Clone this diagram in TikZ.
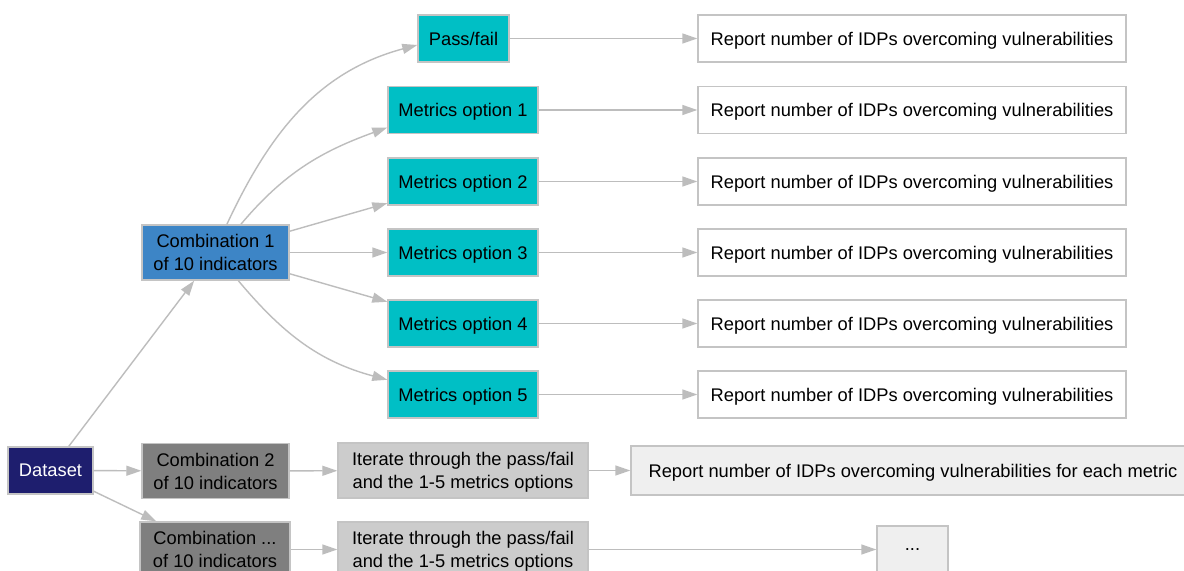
\documentclass[tikz,border=0pt]{standalone}
\usepackage{fontspec}
\setmainfont{Liberation Sans}
\usetikzlibrary{arrows.meta}
\definecolor{metricfill}{HTML}{00BFC5}
\definecolor{combofill}{HTML}{3D85C6}
\definecolor{datafill}{HTML}{1E1E6E}
\definecolor{greyfill}{HTML}{7F7F7F}
\definecolor{iterfill}{HTML}{CCCCCC}
\definecolor{reportfill}{HTML}{EFEFEF}
\definecolor{edgegrey}{HTML}{C4C4C4}
\definecolor{arrowgrey}{HTML}{BDBDBD}
\begin{document}
\begin{tikzpicture}[x=0.5pt,y=0.5pt,
    box/.style={draw=edgegrey, line width=0.7pt, inner sep=0pt, align=center,
      text depth=0pt, font=\fontsize{9.15}{11.5}\selectfont},
    metric/.style={box, fill=metricfill, minimum width=75pt, minimum height=23.5pt},
    report/.style={box, fill=white, minimum width=214pt, minimum height=23.5pt},
    combo/.style={box, minimum width=73.5pt, minimum height=27.5pt},
    iterbox/.style={box, fill=iterfill, minimum width=125pt, minimum height=27.5pt},
    arr/.style={draw=arrowgrey, line width=0.7pt, -{Triangle[length=7.5pt,width=5pt]}}]
  \clip (0,0) rectangle (1184,-571);
  \fill[white] (0,0) rectangle (1184,-571);
  % combination 1 and its options
  \node[combo, fill=combofill] (combo1) at (215.5,-252.5) {Combination 1\\of 10 indicators};
  \node[metric, minimum width=45.5pt] (passfail) at (463.5,-38.5) {Pass/fail};
  \node[metric] (opt1) at (463,-110) {Metrics option 1};
  \node[metric] (opt2) at (463,-181.5) {Metrics option 2};
  \node[metric] (opt3) at (463,-252.5) {Metrics option 3};
  \node[metric] (opt4) at (463,-323.5) {Metrics option 4};
  \node[metric] (opt5) at (463,-394.5) {Metrics option 5};
  \node[report] (rep0) at (912,-38.5) {Report number of IDPs overcoming vulnerabilities};
  \node[report] (rep1) at (912,-110) {Report number of IDPs overcoming vulnerabilities};
  \node[report] (rep2) at (912,-181.5) {Report number of IDPs overcoming vulnerabilities};
  \node[report] (rep3) at (912,-252.5) {Report number of IDPs overcoming vulnerabilities};
  \node[report] (rep4) at (912,-323.5) {Report number of IDPs overcoming vulnerabilities};
  \node[report] (rep5) at (912,-394.5) {Report number of IDPs overcoming vulnerabilities};
  % the other combinations
  \node[box, fill=datafill, text=white, minimum width=42.5pt, minimum height=23.5pt] (dataset) at (50.5,-470.5) {Dataset};
  \node[combo, fill=greyfill] (combo2) at (215.5,-471) {Combination 2\\of 10 indicators};
  \node[combo, fill=greyfill, minimum width=75pt] (combo3) at (215,-549.5) {Combination ...\\of 10 indicators};
  \node[iterbox] (iter1) at (463,-470.5) {Iterate through the pass/fail\\and the 1-5 metrics options};
  \node[iterbox] (iter2) at (463,-549.5) {Iterate through the pass/fail\\and the 1-5 metrics options};
  \node[box, fill=reportfill, minimum width=282pt, minimum height=24.5pt] (eachmetric) at (913,-470.5) {Report number of IDPs overcoming vulnerabilities for each metric};
  \node[box, fill=reportfill, minimum width=35.5pt, minimum height=23.5pt] (dots) at (912.5,-549.5) {...};
  \begin{scope}[arr]
    \draw (dataset) -- (combo1);
    \draw (dataset) -- (combo2);
    \draw (dataset) -- (combo3);
    \draw (combo1.68) to[out=65, in=195] (passfail.188);
    \draw (combo1.48) to[out=50, in=200] (opt1.193);
    \draw (combo1) -- (opt2);
    \draw (combo1) -- (opt3);
    \draw (combo1) -- (opt4);
    \draw (combo1.-51) to[out=-50, in=165] (opt5.169);
    \draw (passfail) -- (rep0);
    \draw (opt1) -- (rep1);
    \draw (opt2) -- (rep2);
    \draw (opt3) -- (rep3);
    \draw (opt4) -- (rep4);
    \draw (opt5) -- (rep5);
    \draw (combo2) -- (iter1);
    \draw (iter1) -- (eachmetric);
    \draw (combo3) -- (iter2);
    \draw (iter2) -- (dots);
  \end{scope}
\end{tikzpicture}
\end{document}
